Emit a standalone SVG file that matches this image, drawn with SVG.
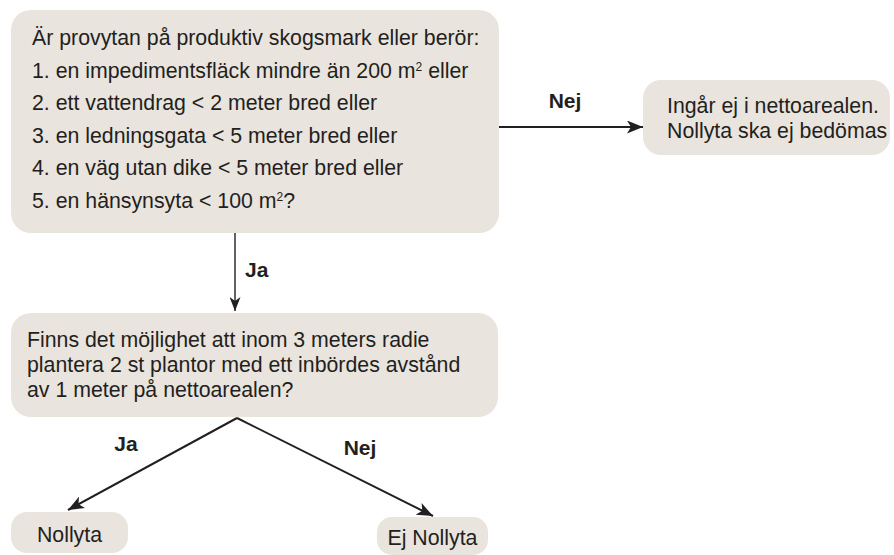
<svg xmlns="http://www.w3.org/2000/svg" width="894" height="555" viewBox="0 0 894 555">
  <defs>
    <style>
      .box { fill: #e9e4dd; }
      .t { font-family: "Liberation Sans", Arial, sans-serif; font-size: 21.3px; fill: #231f20; }
      .lbl { font-family: "Liberation Sans", Arial, sans-serif; font-size: 21px; font-weight: bold; fill: #231f20; }
      .c { fill: none; stroke: #231f20; }
    </style>
    <marker id="ah" markerUnits="userSpaceOnUse" markerWidth="17" markerHeight="13" refX="16" refY="6.5" orient="auto" viewBox="0 0 17 13">
      <path d="M0,0 L16,6.5 L0,13 L4,6.5 z" fill="#231f20"/>
    </marker>
    <marker id="ahs" markerUnits="userSpaceOnUse" markerWidth="15" markerHeight="11" refX="14" refY="5.5" orient="auto" viewBox="0 0 15 11">
      <path d="M0,0 L14,5.5 L0,11 L4,5.5 z" fill="#231f20"/>
    </marker>
  </defs>
  <rect width="894" height="555" fill="#ffffff"/>

  <g id="connectors">
    <line class="c" x1="499" y1="127" x2="643" y2="127" stroke-width="2" marker-end="url(#ah)"/>
    <text class="lbl" x="565" y="108" text-anchor="middle">Nej</text>
    <line class="c" x1="235" y1="233" x2="235" y2="311" stroke-width="1.4" marker-end="url(#ahs)"/>
    <text class="lbl" x="245" y="277">Ja</text>
    <line class="c" x1="237" y1="418" x2="68" y2="510" stroke-width="2" marker-end="url(#ah)"/>
    <line class="c" x1="237" y1="418" x2="433" y2="516" stroke-width="2" marker-end="url(#ah)"/>
    <text class="lbl" x="126" y="451" text-anchor="middle">Ja</text>
    <text class="lbl" x="360" y="455" text-anchor="middle">Nej</text>
  </g>

  <g id="node-q1">
    <rect class="box" x="11" y="10" width="488" height="223" rx="20"/>
    <text class="t" x="32" y="45">Är provytan på produktiv skogsmark eller berör:</text>
    <text class="t" x="32" y="77.5">1. en impedimentsfläck mindre än 200 m<tspan font-size="12" dy="-7">2</tspan><tspan dy="7"> eller</tspan></text>
    <text class="t" x="32" y="110">2. ett vattendrag &lt; 2 meter bred eller</text>
    <text class="t" x="32" y="142.5">3. en ledningsgata &lt; 5 meter bred eller</text>
    <text class="t" x="32" y="175">4. en väg utan dike &lt; 5 meter bred eller</text>
    <text class="t" x="32" y="208">5. en hänsynsyta &lt; 100 m<tspan font-size="12" dy="-7">2</tspan><tspan dy="7">?</tspan></text>
  </g>

  <g id="node-out1">
    <rect class="box" x="643" y="80" width="247" height="75" rx="18"/>
    <text class="t" x="667" y="113">Ingår ej i nettoarealen.</text>
    <text class="t" x="667" y="138">Nollyta ska ej bedömas</text>
  </g>

  <g id="node-q2">
    <rect class="box" x="11" y="313" width="487" height="104" rx="20"/>
    <text class="t" x="27" y="347">Finns det möjlighet att inom 3 meters radie</text>
    <text class="t" x="27" y="372">plantera 2 st plantor med ett inbördes avstånd</text>
    <text class="t" x="27" y="397">av 1 meter på nettoarealen?</text>
  </g>

  <g id="node-nollyta">
    <rect class="box" x="11" y="512" width="117" height="41" rx="16"/>
    <text class="t" x="69.5" y="542" text-anchor="middle">Nollyta</text>
  </g>

  <g id="node-ejnollyta">
    <rect class="box" x="377" y="517" width="111" height="38" rx="15"/>
    <text class="t" x="432.5" y="545" text-anchor="middle">Ej Nollyta</text>
  </g>
</svg>
